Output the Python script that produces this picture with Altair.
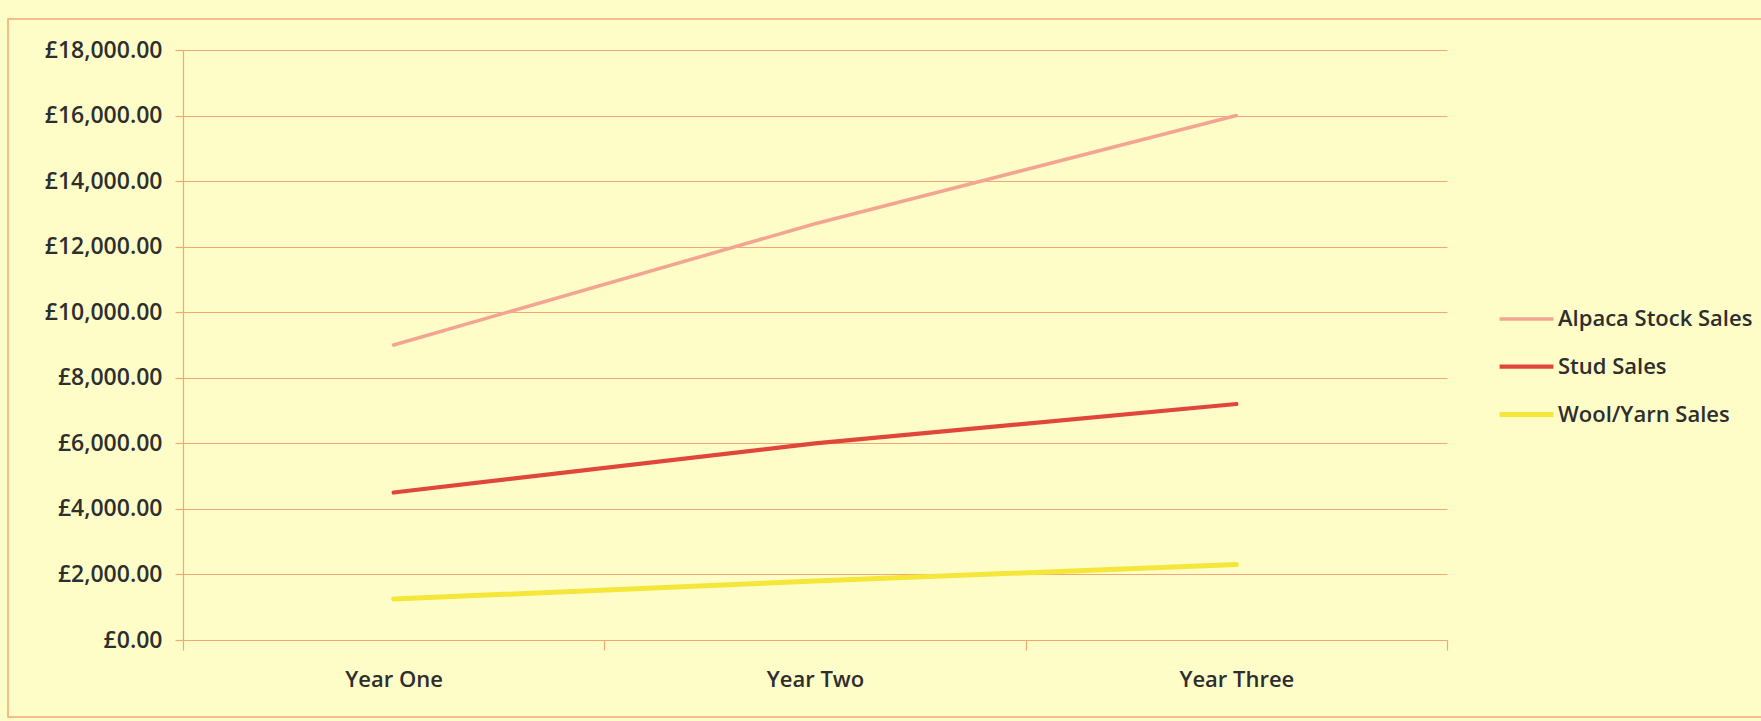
import altair as alt
import pandas as pd

years = ["Year One", "Year Two", "Year Three"]
series = ["Alpaca Stock Sales", "Stud Sales", "Wool/Yarn Sales"]
alpaca = [9000, 12700, 16000]
stud = [4500, 6000, 7200]
wool = [1250, 1800, 2300]
colors = ["#F4A592", "#E0473A", "#F5E63A"]
widths = [3.5, 5, 4]

rows = []
for s, vals in zip(series, [alpaca, stud, wool]):
    for y, v in zip(years, vals):
        rows.append({"year": y, "series": s, "value": v})
df = pd.DataFrame(rows)

BG = "#FEFDC8"
GRID = "#F2A874"
TXT = "#2E2E2E"
FONT = "Open Sans"
WEIGHT = 600

W, H = 1264, 590

frame = alt.Chart(pd.DataFrame({"a": [0]})).mark_rect(
    fill=None, stroke=GRID, strokeWidth=1.5
).encode(
    x=alt.value(-175), x2=alt.value(W + 330), y=alt.value(-31), y2=alt.value(H + 77)
)

lines = alt.Chart(df).mark_line(strokeCap="round").encode(
    x=alt.X(
        "year:N",
        sort=years,
        scale=alt.Scale(type="band", paddingInner=0, paddingOuter=0),
        bandPosition=0.5,
        axis=alt.Axis(
            title=None,
            tickBand="extent",
            labelAngle=0,
            labelFontSize=22,
            labelFont=FONT,
            labelFontWeight=WEIGHT,
            labelColor=TXT,
            labelPadding=19,
            tickSize=10,
            tickColor=GRID,
            domainColor=GRID,
            grid=False,
        ),
    ),
    y=alt.Y(
        "value:Q",
        scale=alt.Scale(domain=[0, 18000], nice=False),
        axis=alt.Axis(
            title=None,
            values=list(range(0, 18001, 2000)),
            labelExpr="'£' + format(datum.value, ',.2f')",
            labelFontSize=23,
            labelFont=FONT,
            labelFontWeight=WEIGHT,
            labelColor=TXT,
            labelPadding=13,
            tickSize=8,
            tickColor=GRID,
            domainColor=GRID,
            gridColor=GRID,
            grid=True,
        ),
    ),
    color=alt.Color(
        "series:N",
        sort=series,
        scale=alt.Scale(domain=series, range=colors),
        legend=alt.Legend(
            title=None,
            orient="none",
            legendX=1314,
            legendY=240,
            symbolType="stroke",
            symbolSize=2900,
            symbolStrokeWidth=4,
            labelFontSize=22,
            labelFont=FONT,
            labelFontWeight=WEIGHT,
            labelColor=TXT,
            labelOffset=2,
            labelLimit=400,
            rowPadding=7,
            padding=0,
        ),
    ),
    strokeWidth=alt.StrokeWidth(
        "series:N",
        sort=series,
        scale=alt.Scale(domain=series, range=widths),
        legend=None,
    ),
)

chart = alt.layer(frame, lines).properties(
    width=W,
    height=H,
    background=BG,
    padding={"left": 183, "top": 50, "right": 314, "bottom": 81},
    autosize=alt.AutoSizeParams(type="none"),
).configure_view(stroke=None).configure_axis(
    gridWidth=1.2, domainWidth=1.2, tickWidth=1.2
)

chart.save("out.html", embed_options={"renderer": "svg", "actions": False})
